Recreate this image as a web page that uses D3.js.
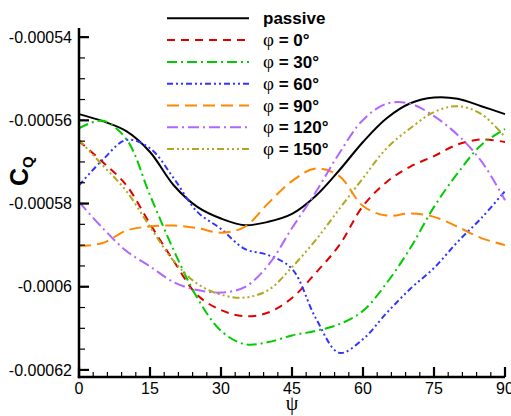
<!DOCTYPE html>
<html><head><meta charset="utf-8">
<script src="https://cdn.jsdelivr.net/npm/d3@7"></script>
<style>body{margin:0;background:#fff}svg{display:block}</style>
</head><body>
<svg id="c" width="511" height="416"></svg>
<script>
const psi = [0,5,10,15,20,25,30,35,40,45,50,55,60,65,70,75,80,85,90];
// values in units of 1e-5
const passive = [-55.85,-56.02,-56.26,-56.76,-57.56,-58.08,-58.36,-58.52,-58.44,-58.25,-57.82,-57.20,-56.52,-55.95,-55.59,-55.45,-55.48,-55.66,-55.85];
const phi0    = [-56.50,-57.00,-57.56,-58.49,-59.38,-60.20,-60.56,-60.71,-60.62,-60.27,-59.67,-59.00,-58.06,-57.48,-57.11,-56.86,-56.58,-56.46,-56.52];
const phi30   = [-56.19,-56.01,-56.45,-57.80,-59.12,-60.27,-61.06,-61.38,-61.33,-61.17,-61.06,-60.90,-60.58,-59.91,-59.07,-58.08,-57.27,-56.59,-56.21];
const phi60   = [-57.56,-56.95,-56.47,-56.67,-57.39,-58.20,-58.61,-59.09,-59.24,-59.57,-60.75,-61.59,-61.26,-60.63,-60.05,-59.55,-58.92,-58.35,-57.70];
const phi90   = [-59.02,-58.95,-58.65,-58.55,-58.53,-58.59,-58.70,-58.56,-57.99,-57.46,-57.16,-57.34,-58.06,-58.29,-58.24,-58.32,-58.56,-58.83,-59.00];
const phi120  = [-57.96,-58.59,-59.14,-59.51,-59.89,-60.08,-60.14,-60.01,-59.48,-58.59,-57.73,-56.79,-55.99,-55.60,-55.60,-55.90,-56.35,-56.98,-57.92];
const phi150  = [-56.47,-57.08,-57.70,-58.56,-59.38,-59.93,-60.19,-60.26,-60.08,-59.53,-58.88,-58.13,-57.39,-56.67,-56.19,-55.80,-55.66,-55.85,-56.40];
const seriesNames = ["passive","0","30","60","90","120","150"];
const seriesValues = [passive, phi0, phi30, phi60, phi90, phi120, phi150];
const xTicks = [0,15,30,45,60,75,90];
const yTicks = [-0.00062,-0.0006,-0.00058,-0.00056,-0.00054];
const yTickLabels = ["-0.00062","-0.0006","-0.00058","-0.00056","-0.00054"];

const styles = [
  {color:"#000000", dash:null, w:2},
  {color:"#e00000", dash:"8,6", w:2},
  {color:"#00cc00", dash:"10,4,2,4", w:2},
  {color:"#3333ff", dash:"6,3,2,3,2,3", w:2},
  {color:"#ff8800", dash:"12,6", w:2},
  {color:"#b066ff", dash:"11,4,2,4", w:2},
  {color:"#b0a820", dash:"7,3,2,3,2,3,2,3", w:2}
];

const svg = d3.select("#c");
const x = d3.scaleLinear().domain([0,90]).range([79,505]);
const y = d3.scaleLinear().domain([-0.0006217,-0.0005378]).range([377,28]);

// curves
const line = d3.line().x(d=>x(d[0])).y(d=>y(d[1]*1e-5)).curve(d3.curveCatmullRom.alpha(0.5));
seriesValues.forEach((vals,i)=>{
  svg.append("path").datum(psi.map((p,j)=>[p,vals[j]]))
    .attr("d",line).attr("fill","none")
    .attr("stroke",styles[i].color).attr("stroke-width",styles[i].w)
    .attr("stroke-dasharray",styles[i].dash);
});

// axes
const ax = svg.append("g").attr("stroke","#000");
ax.append("line").attr("x1",x(0)).attr("x2",x(0)).attr("y1",y.range()[1]).attr("y2",y.range()[0]+1.2).attr("stroke-width",2.5);
ax.append("line").attr("x1",x(0)-1.2).attr("x2",x(90)).attr("y1",y.range()[0]).attr("y2",y.range()[0]).attr("stroke-width",2.5);
// y ticks
const yMinor = d3.range(-0.00062,-0.000535,0.000005);
yMinor.forEach(v=>{
  ax.append("line").attr("x1",x(0)).attr("x2",x(0)+6).attr("y1",y(v)).attr("y2",y(v)).attr("stroke-width",1.2);
});
yTicks.forEach(v=>{
  ax.append("line").attr("x1",x(0)).attr("x2",x(0)+10).attr("y1",y(v)).attr("y2",y(v)).attr("stroke-width",2.2);
});
// x ticks
d3.range(0,91,3).forEach(v=>{
  ax.append("line").attr("x1",x(v)).attr("x2",x(v)).attr("y1",y.range()[0]).attr("y2",y.range()[0]-5).attr("stroke-width",1.2);
});
xTicks.forEach(v=>{
  ax.append("line").attr("x1",x(v)).attr("x2",x(v)).attr("y1",y.range()[0]).attr("y2",y.range()[0]-10).attr("stroke-width",2.2);
});

const ff = "Liberation Sans, Arial, sans-serif";
yTicks.forEach((v,i)=>{
  svg.append("text").attr("x",72).attr("y",y(v)).attr("dy","0.36em")
    .attr("text-anchor","end").attr("font-family",ff).attr("font-size",16).text(yTickLabels[i]);
});
xTicks.forEach(v=>{
  svg.append("text").attr("x",x(v)).attr("y",394)
    .attr("text-anchor","middle").attr("font-family",ff).attr("font-size",16).text(v);
});
// axis titles
svg.append("text").attr("x",x(45)).attr("y",410).attr("text-anchor","middle")
  .attr("font-family","Liberation Serif, serif").attr("font-size",20).text("ψ");
const yl = svg.append("text").attr("transform","translate(28,186) rotate(-90)")
  .attr("font-family",ff).attr("font-weight","bold").attr("font-size",25);
yl.append("tspan").text("C");
yl.append("tspan").attr("font-size",15).attr("dy",5).text("Q");

// legend
const legY0 = 18.3, legDy = 21.8;
seriesNames.forEach((n,i)=>{
  const yy = legY0 + i*legDy;
  svg.append("line").attr("x1",167).attr("x2",249).attr("y1",yy).attr("y2",yy)
    .attr("stroke",styles[i].color).attr("stroke-width",styles[i].w).attr("stroke-dasharray",styles[i].dash);
  const t = svg.append("text").attr("x",263).attr("y",yy).attr("dy","0.36em")
    .attr("font-family",ff).attr("font-weight","bold").attr("font-size",17);
  if(i===0){ t.text(n); }
  else {
    t.append("tspan").attr("font-family","Liberation Serif, serif").attr("font-weight","normal").attr("font-size",19).text("φ");
    t.append("tspan").text(" = "+n+"°");
  }
});
</script>
</body></html>
